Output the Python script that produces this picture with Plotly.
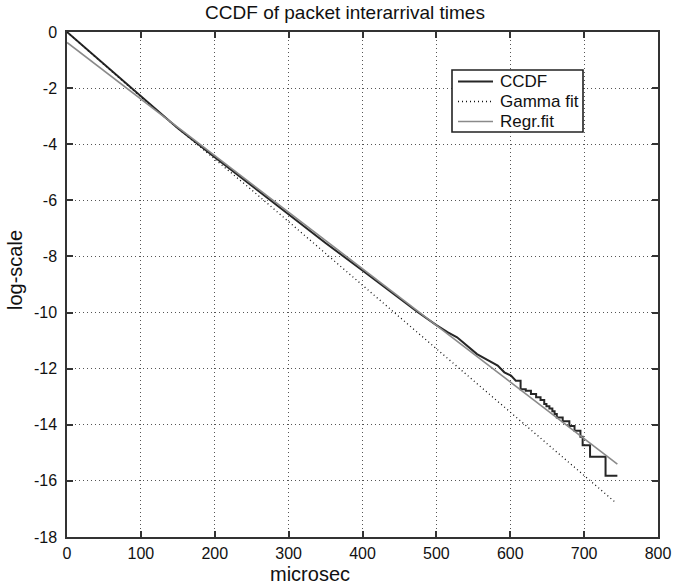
import plotly.graph_objects as go

# ---- data ----
ccdf_x = [0, 20, 40, 60, 80, 100, 120, 150, 200, 250, 300, 350, 400, 425, 450, 475, 500,
          515, 528, 542, 555, 569, 583, 592, 601, 607.5, 614, 614, 621, 621, 628, 628, 635, 635,
          641, 641, 646, 646, 649, 649, 653, 653, 657, 657, 660, 660, 663, 663, 671, 671,
          680, 680, 687, 687, 695, 695, 698, 698, 708, 708, 729, 729, 745]
ccdf_y = [0, -0.46, -0.93, -1.39, -1.85, -2.31, -2.76, -3.43, -4.46, -5.49, -6.51, -7.52, -8.50, -9.00, -9.49, -9.99, -10.45,
          -10.70, -10.88, -11.18, -11.48, -11.69, -11.89, -12.13, -12.25, -12.43, -12.43, -12.73, -12.73, -12.79, -12.79, -12.90, -12.90, -13.02,
          -13.02, -13.12, -13.12, -13.26, -13.26, -13.34, -13.34, -13.42, -13.42, -13.52, -13.52, -13.62, -13.62, -13.74, -13.74, -13.87,
          -13.87, -14.04, -14.04, -14.21, -14.21, -14.43, -14.43, -14.73, -14.73, -15.14, -15.14, -15.82, -15.82]

gamma_x = [0, 50, 100, 150, 200, 250, 300, 350, 400, 450, 500, 550, 600, 650, 700, 743]
gamma_y = [0, -1.17, -2.32, -3.43, -4.52, -5.63, -6.76, -7.90, -9.03, -10.16, -11.29, -12.42, -13.55, -14.68, -15.81, -16.78]

regr_x = [0, 745]
regr_y = [-0.37, -15.40]

x_ticks = [0, 100, 200, 300, 400, 500, 600, 700, 800]
y_ticks = [0, -2, -4, -6, -8, -10, -12, -14, -16, -18]
series_names = ["CCDF", "Gamma fit", "Regr.fit"]

FONT = "Liberation Sans, Arial, sans-serif"
# plot area in pixels
L, R, T, B = 67, 658, 32, 537
W, H = R - L, B - T


def px(x):
    return (x - L) / W


def py(y):
    return (B - y) / H


styles = [dict(color="#262626", width=2),
          dict(color="#111111", width=1.3, dash="1px,3px"),
          dict(color="#8a8a8a", width=1.6)]

fig = go.Figure()
for name, xs, ys, st in zip(series_names, [ccdf_x, gamma_x, regr_x],
                            [ccdf_y, gamma_y, regr_y], styles):
    fig.add_trace(go.Scatter(x=xs, y=ys, mode="lines", name=name, line=st,
                             showlegend=False))

axis_common = dict(
    showline=True, linecolor="#333333", linewidth=1.5, mirror="allticks",
    ticks="inside", ticklen=6, tickwidth=1.5, tickcolor="#333333",
    showgrid=True, gridcolor="#555555", gridwidth=1, griddash="1px,3px",
    zeroline=False, automargin=False,
    tickfont=dict(family=FONT, size=16, color="#111111"),
)

fig.update_layout(
    width=690, height=584,
    margin=dict(l=L, r=690 - R, t=T, b=584 - B),
    paper_bgcolor="white", plot_bgcolor="white",
    font=dict(family=FONT, color="#111111"),
    title=dict(text="CCDF of packet interarrival times", x=0.5, xref="container",
               xanchor="center", y=1 - 12 / 584, yref="container", yanchor="middle",
               font=dict(family=FONT, size=19, color="#111111")),
    xaxis=dict(range=[0, 800], tickvals=x_ticks, ticktext=[str(v) for v in x_ticks],
               ticklabelstandoff=1, **axis_common),
    yaxis=dict(range=[-18, 0], tickvals=y_ticks, ticktext=[str(v) for v in y_ticks],
               ticklabelstandoff=5, **axis_common),
    showlegend=False,
)

# axis titles
fig.add_annotation(text="microsec", xref="paper", yref="paper", x=px(310), y=py(574),
                   xanchor="center", yanchor="middle", showarrow=False,
                   font=dict(family=FONT, size=20, color="#111111"))
fig.add_annotation(text="log-scale", xref="paper", yref="paper", x=px(15), y=py(270),
                   xanchor="center", yanchor="middle", showarrow=False, textangle=-90,
                   font=dict(family=FONT, size=20, color="#111111"))

# legend box drawn manually
fig.add_shape(type="rect", xref="paper", yref="paper", x0=px(452), x1=px(583),
              y0=py(70), y1=py(132), line=dict(color="#222222", width=1.6),
              fillcolor="white", layer="above")
for i, (name, st) in enumerate(zip(series_names, styles)):
    yc = 81.5 + 20 * i
    fig.add_shape(type="line", xref="paper", yref="paper", x0=px(458), x1=px(493),
                  y0=py(yc), y1=py(yc), line=st, layer="above")
    fig.add_annotation(text=name, xref="paper", yref="paper", x=px(498), y=py(yc),
                       xanchor="left", yanchor="middle", showarrow=False,
                       font=dict(family=FONT, size=17, color="#111111"))

fig.write_html("out.html")
